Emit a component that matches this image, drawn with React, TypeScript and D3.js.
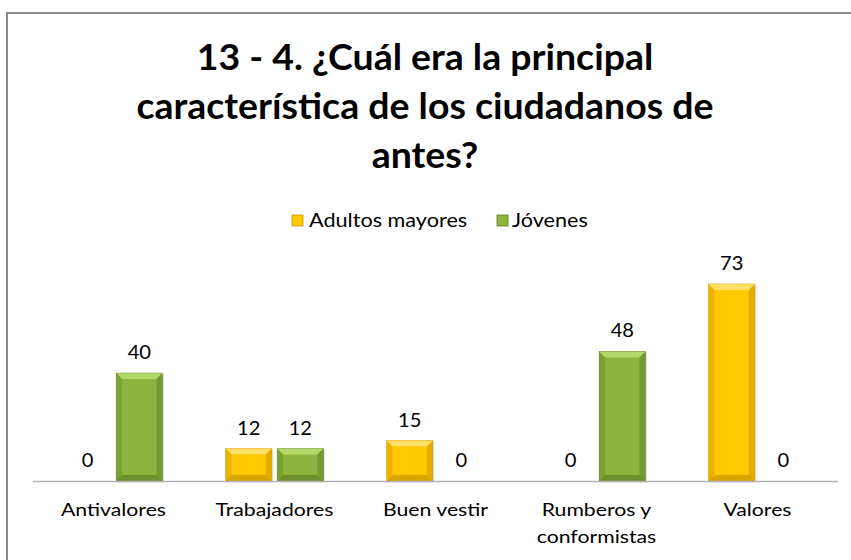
import React from "react";
import * as d3 from "d3";

const categories = ["Antivalores", "Trabajadores", "Buen vestir", "Rumberos y\nconformistas", "Valores"];
const seriesNames = ["Adultos mayores", "Jóvenes"];
const adultos = [0, 12, 15, 0, 73];
const jovenes = [40, 12, 0, 48, 0];
const titleLines = ["13 - 4. ¿Cuál era la principal", "característica de los ciudadanos de", "antes?"];

const W = 851;
const H = 560;
const FONT = "Lato, Carlito, Calibri, 'Open Sans', sans-serif";

const colors = [
  { base: "#ffc800", light: "#ffe066", dark: "#d9a300", edge: "#c89600" },
  { base: "#8db43e", light: "#b5d86a", dark: "#6d8f2c", edge: "#5f7d25" },
];

function T({ x, y, sx, size, anchor = "middle", bold = false, children }: any) {
  return (
    <text
      transform={`translate(${x},${y}) scale(${sx},1)`}
      textAnchor={anchor}
      fontSize={size}
      fontWeight={bold ? "bold" : "normal"}
      fill="#000"
    >
      {children}
    </text>
  );
}

function Bar({ x, y, w, h, c }: { x: number; y: number; w: number; h: number; c: typeof colors[0] }) {
  if (h <= 0) return null;
  const b = Math.min(6, h / 2);
  return (
    <g>
      <rect x={x + 1.5} y={y + 1.5} width={w} height={h} fill="#000" opacity={0.12} />
      <rect x={x} y={y} width={w} height={h} fill={c.base} />
      <polygon points={`${x},${y} ${x + w},${y} ${x + w - b},${y + b} ${x + b},${y + b}`} fill={c.light} />
      <polygon points={`${x},${y} ${x + b},${y + b} ${x + b},${y + h - b} ${x},${y + h}`} fill={c.dark} opacity={0.55} />
      <polygon points={`${x + w},${y} ${x + w - b},${y + b} ${x + w - b},${y + h - b} ${x + w},${y + h}`} fill={c.dark} opacity={0.75} />
      <polygon points={`${x},${y + h} ${x + b},${y + h - b} ${x + w - b},${y + h - b} ${x + w},${y + h}`} fill={c.dark} />
      <rect x={x} y={y} width={w} height={h} fill="none" stroke={c.edge} strokeWidth={0.6} opacity={0.6} />
    </g>
  );
}

export default function App() {
  const x0 = d3.scaleBand<number>().domain(d3.range(categories.length)).range([33, 838]).padding(0);
  const x1 = d3.scaleBand<number>().domain([0, 1]).range([0, 98]).paddingInner(10 / 98).paddingOuter(0);
  const y = d3.scaleLinear().domain([0, 80]).range([481, 265]);
  const series = [adultos, jovenes];

  return (
    <svg width={W} height={H} style={{ position: "absolute", left: 0, top: 0 }} fontFamily={FONT}>
      <rect x={0} y={0} width={W} height={H} fill="#fff" />
      <path d={`M7,${H} L7,13 L${W},13`} fill="none" stroke="#8a8a8a" strokeWidth={2} />
      {titleLines.map((t, i) => (
        <T key={i} x={425} y={70 + i * 49} sx={1.04} size={36} bold>
          {t}
        </T>
      ))}
      {/* legend */}
      <rect x={292} y={215} width={11} height={11} fill={colors[0].base} stroke={colors[0].edge} strokeWidth={0.8} />
      <T x={309} y={227} sx={1.17} size={18.5} anchor="start">{seriesNames[0]}</T>
      <rect x={497} y={215} width={11} height={11} fill={colors[1].base} stroke={colors[1].edge} strokeWidth={0.8} />
      <T x={512} y={227} sx={1.17} size={18.5} anchor="start">{seriesNames[1]}</T>
      {categories.map((cat, i) => {
        const gx = x0(i)! + x0.bandwidth() / 2 - 49;
        return (
          <g key={i}>
            {series.map((s, j) => {
              const bx = gx + x1(j)!;
              const bw = x1.bandwidth();
              const v = s[i];
              return (
                <g key={j}>
                  <Bar x={bx} y={y(v)} w={bw} h={y(0) - y(v)} c={colors[j]} />
                  <T x={bx + bw / 2} y={y(v) - 14} sx={1.06} size={19}>
                    {v}
                  </T>
                </g>
              );
            })}
            {cat.split("\n").map((ln, k) => (
              <T key={k} x={x0(i)! + x0.bandwidth() / 2} y={516 + k * 27} sx={1.18} size={18}>
                {ln}
              </T>
            ))}
          </g>
        );
      })}
      <line x1={33} x2={838} y1={481.5} y2={481.5} stroke="#b3b3b3" strokeWidth={1.5} />
    </svg>
  );
}
